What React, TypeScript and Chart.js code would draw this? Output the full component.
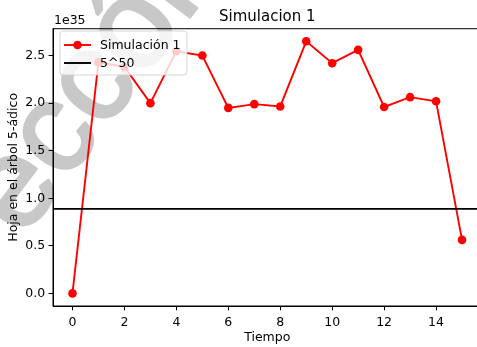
import React, { useEffect, useRef } from "react";
import { Chart, registerables } from "chart.js";

Chart.register(...registerables);

// Values in units of 1e35
const tiempo = [0, 1, 2, 3, 4, 5, 6, 7, 8, 9, 10, 11, 12, 13, 14, 15];
const simulacion1 = [0, 2.43, 2.38, 2.0, 2.546, 2.5, 1.95, 1.99, 1.965, 2.65, 2.42, 2.56, 1.96, 2.063, 2.02, 0.5625];
const referencia = Math.pow(5, 50) / 1e35;
const xTicks = [0, 2, 4, 6, 8, 10, 12, 14];
const yTicks = [0, 0.5, 1.0, 1.5, 2.0, 2.5];
const xLimits = [-0.75, 15.75];
const yLimits = [-0.1325, 2.7825];

const titulo = "Simulacion 1";
const xLabel = "Tiempo";
const yLabel = "Hoja en el árbol 5-ádico";
const escala = "1e35";
const leyenda = ["Simulación 1", "5^50"];
const marca = "eccól";

const FONT = "'DejaVu Sans', sans-serif";
const CW = 492;
const CH = 347;

export default function App() {
  const ref = useRef<HTMLCanvasElement | null>(null);

  useEffect(() => {
    const canvas = ref.current;
    if (!canvas) return;
    document.body.style.margin = "0";

    const decor = {
      id: "decor",
      beforeDraw(chart: any) {
        const ctx = chart.ctx;
        ctx.save();
        ctx.fillStyle = "#fff";
        ctx.fillRect(0, 0, chart.width, chart.height);
        // watermark
        ctx.translate(22, 240);
        ctx.rotate((-53 * Math.PI) / 180);
        ctx.fillStyle = "#c8c8c8";
        ctx.strokeStyle = "#c8c8c8";
        ctx.lineWidth = 3;
        ctx.lineJoin = "round";
        ctx.font = `128px 'Liberation Sans', sans-serif`;
        ctx.textBaseline = "alphabetic";
        ctx.fillText(marca, 0, 0);
        ctx.strokeText(marca, 0, 0);
        ctx.restore();
      },
      afterDraw(chart: any) {
        const ctx = chart.ctx;
        const a = chart.chartArea;
        ctx.save();
        // frame
        ctx.strokeStyle = "#000";
        ctx.lineWidth = 1;
        ctx.strokeRect(a.left, a.top, a.right - a.left, a.bottom - a.top);
        // title
        ctx.fillStyle = "#000";
        ctx.textAlign = "center";
        ctx.textBaseline = "alphabetic";
        ctx.font = `15px ${FONT}`;
        const cx = (a.left + a.right) / 2;
        ctx.fillText(titulo, cx, 21);
        ctx.font = `12.5px ${FONT}`;
        ctx.fillText(xLabel, cx, 341);
        ctx.textAlign = "left";
        ctx.fillText(escala, 54, 24);
        ctx.save();
        ctx.translate(16.5, (a.top + a.bottom) / 2);
        ctx.rotate(-Math.PI / 2);
        ctx.textAlign = "center";
        ctx.fillText(yLabel, 0, 0);
        ctx.restore();
        // legend
        const lx = 60, ly = 31, lw = 127, lh = 44, r = 3;
        ctx.beginPath();
        ctx.moveTo(lx + r, ly);
        ctx.arcTo(lx + lw, ly, lx + lw, ly + lh, r);
        ctx.arcTo(lx + lw, ly + lh, lx, ly + lh, r);
        ctx.arcTo(lx, ly + lh, lx, ly, r);
        ctx.arcTo(lx, ly, lx + lw, ly, r);
        ctx.closePath();
        ctx.fillStyle = "rgba(255,255,255,0.8)";
        ctx.fill();
        ctx.strokeStyle = "rgba(204,204,204,0.8)";
        ctx.lineWidth = 1;
        ctx.stroke();
        const rows = [
          { y: 45, color: "#ff0000", marker: true },
          { y: 63, color: "#000000", marker: false },
        ];
        rows.forEach((row, i) => {
          ctx.strokeStyle = row.color;
          ctx.lineWidth = 1.9;
          ctx.beginPath();
          ctx.moveTo(64, row.y);
          ctx.lineTo(91, row.y);
          ctx.stroke();
          if (row.marker) {
            ctx.beginPath();
            ctx.arc(77.5, row.y, 4.3, 0, Math.PI * 2);
            ctx.fillStyle = row.color;
            ctx.fill();
          }
          ctx.fillStyle = "#000";
          ctx.textAlign = "left";
          ctx.textBaseline = "middle";
          ctx.font = `12.5px ${FONT}`;
          ctx.fillText(leyenda[i], 100, row.y + 0.5);
        });
        ctx.restore();
      },
    };

    const chart = new Chart(canvas, {
      type: "line",
      data: {
        datasets: [
          {
            label: leyenda[0],
            data: tiempo.map((t, i) => ({ x: t, y: simulacion1[i] })),
            borderColor: "#ff0000",
            backgroundColor: "#ff0000",
            borderWidth: 1.9,
            pointRadius: 4.3,
            pointBorderWidth: 0,
            pointBackgroundColor: "#ff0000",
            tension: 0,
            order: 1,
          },
          {
            label: leyenda[1],
            data: xLimits.map((x) => ({ x, y: referencia })),
            borderColor: "#000000",
            borderWidth: 1.9,
            pointRadius: 0,
            tension: 0,
            order: 0,
          },
        ],
      },
      options: {
        animation: false,
        responsive: false,
        devicePixelRatio: 1,
        layout: { padding: { left: 0, top: 28.7, right: CW - 481.5, bottom: 0 } },
        plugins: { legend: { display: false }, tooltip: { enabled: false }, title: { display: false } },
        scales: {
          x: {
            type: "linear",
            min: xLimits[0],
            max: xLimits[1],
            afterBuildTicks: (s: any) => {
              s.ticks = xTicks.map((v) => ({ value: v }));
            },
            afterFit: (s: any) => {
              s.height = 41;
            },
            ticks: {
              autoSkip: false,
              maxRotation: 0,
              padding: 4.5,
              color: "#000",
              font: { family: FONT, size: 12.5 },
            },
            grid: { display: true, drawOnChartArea: false, drawTicks: true, tickLength: 4.4, color: "#000", lineWidth: 1 },
            border: { display: true, color: "#000", width: 1 },
          },
          y: {
            type: "linear",
            min: yLimits[0],
            max: yLimits[1],
            afterBuildTicks: (s: any) => {
              s.ticks = yTicks.map((v) => ({ value: v }));
            },
            afterFit: (s: any) => {
              s.width = 53;
            },
            ticks: {
              autoSkip: false,
              padding: 3.5,
              color: "#000",
              font: { family: FONT, size: 12.5 },
              callback: (v: any) => Number(v).toFixed(1),
            },
            grid: { display: true, drawOnChartArea: false, drawTicks: true, tickLength: 4.4, color: "#000", lineWidth: 1 },
            border: { display: true, color: "#000", width: 1 },
          },
        },
      },
      plugins: [decor],
    } as any);

    return () => chart.destroy();
  }, []);

  return (
    <div style={{ position: "absolute", left: 0, top: 0, width: 477, height: 347, overflow: "hidden", background: "#fff" }}>
      <canvas ref={ref} width={CW} height={CH} style={{ width: CW, height: CH, display: "block" }} />
    </div>
  );
}
